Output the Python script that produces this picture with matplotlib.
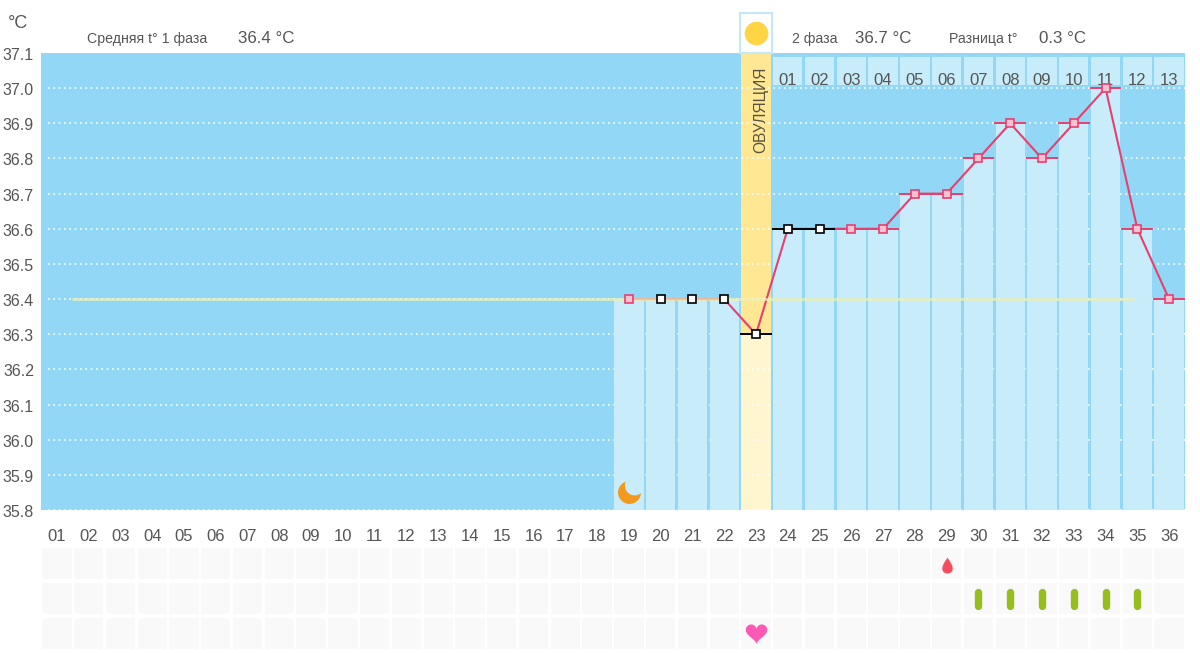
import numpy as np
import matplotlib
matplotlib.use('Agg')
import matplotlib.pyplot as plt
from matplotlib.path import Path
from matplotlib.patches import Rectangle
from matplotlib.transforms import ScaledTranslation

plt.rcParams['font.family'] = ['Liberation Sans', 'DejaVu Sans']

# Значения с графика
all_days = list(range(1, 37))
day_labels = [f'{d:02d}' for d in all_days]
temp_days = list(range(19, 37))
temps = [36.4, 36.4, 36.4, 36.4, 36.3, 36.6, 36.6, 36.6, 36.6, 36.7,
         36.7, 36.8, 36.9, 36.8, 36.9, 37.0, 36.6, 36.4]
black_days = [20, 21, 22, 23, 24, 25]
no_cap_days = [19, 20, 21, 22]
ovulation_day = 23
phase2_days = list(range(24, 37))
phase2_labels = [f'{d:02d}' for d in range(1, 14)]
y_ticks = [35.8, 35.9, 36.0, 36.1, 36.2, 36.3, 36.4, 36.5, 36.6, 36.7, 36.8, 36.9, 37.0, 37.1]
mean_temp = 36.4
mean_from, mean_to = 1.47, 34.9
drop_days = [29]
pill_days = [30, 31, 32, 33, 34, 35]
heart_days = [23]
moon_day = 19

W, H = 1200, 653
BG = '#92D8F6'
LIGHT = '#C9ECFB'
TEXT = '#555555'
RED = '#E5406F'


def px_axes(x0, y0, x1, y1):
    # координаты в пикселях от верхнего левого угла
    return fig.add_axes([x0 / W, 1 - y1 / H, (x1 - x0) / W, (y1 - y0) / H])


def crescent():
    a1 = np.radians(np.linspace(109, 357, 50))
    a2 = np.radians(np.linspace(310, 156, 40))
    xs = np.r_[np.cos(a1), 0.45 + 0.85 * np.cos(a2)]
    ys = np.r_[np.sin(a1), 0.6 + 0.85 * np.sin(a2)]
    return Path(np.c_[xs, ys])


def heart():
    t = np.linspace(0, 2 * np.pi, 80)
    xs = 16 * np.sin(t) ** 3
    ys = 13 * np.cos(t) - 5 * np.cos(2 * t) - 2 * np.cos(3 * t) - np.cos(4 * t)
    return Path(np.c_[xs, ys + 3])


def drop():
    t = np.linspace(0, 2 * np.pi, 80)
    xs = 0.9 * np.sin(t) * np.sin(t / 2) ** 1.3
    ys = np.cos(t)
    return Path(np.c_[xs, ys])


fig = plt.figure(figsize=(W / 100, H / 100), dpi=100, facecolor='white')

ax = px_axes(41, 53, 1185, 510)
ax.set_facecolor(BG)
ax.set_xlim(0.5, 36.5)
ax.set_ylim(35.8, 37.1)
for s in ax.spines.values():
    s.set_visible(False)

# колонка овуляции
ov_temp = temps[temp_days.index(ovulation_day)]
ax.bar(ovulation_day, 37.1 - ov_temp, bottom=ov_temp, width=0.94, color='#FFE794', zorder=1)
ax.bar(ovulation_day, ov_temp - 35.8, bottom=35.8, width=0.94, color='#FFF5CF', zorder=1)

# пунктирная сетка
ax.hlines(y_ticks[:-1], 0.72, 36.5, colors='white', lw=1.2, linestyles=(0, (1, 2.2)), zorder=2, clip_on=False)

# столбики температуры
for d, t in zip(temp_days, temps):
    if d != ovulation_day:
        ax.bar(d, t - 35.8, bottom=35.8, width=0.92, color=LIGHT, zorder=3)

# вкладки второй фазы
ax.bar(phase2_days, [0.082] * 13, bottom=37.008, width=0.92, color=LIGHT, zorder=3)
for d, lab in zip(phase2_days, phase2_labels):
    ax.text(d, 37.021, lab, ha='center', va='center', fontsize=12, color=TEXT, zorder=6)

# вкладка с солнцем
ax.add_patch(Rectangle((ovulation_day - 0.5, 37.1), 1.0, 0.115, fc='white', ec='#C4E8F8',
                       lw=1.5, clip_on=False, zorder=4))
ax.plot([ovulation_day], [37.157], marker='o', ms=17, color='#FFD544', mew=0, clip_on=False, zorder=5)
ax.text(ovulation_day + 0.16, 36.938, 'ОВУЛЯЦИЯ', rotation=90, ha='center', va='center',
        fontsize=11.2, color='#5A5240', zorder=6)

# средняя и кривая температуры
ax.plot(temp_days, temps, color=RED, lw=1.5, zorder=4)
ax.hlines(mean_temp, mean_from, mean_to, colors='#EEF0B4', lw=2, alpha=0.75, zorder=5)

for d, t in zip(temp_days, temps):
    black = d in black_days
    if d not in no_cap_days:
        ax.hlines(t, d - 0.5, d + 0.5, colors='black' if black else RED, lw=1.4, zorder=6)
    ax.plot(d, t, marker='s', ms=5.6 if black else 5.2,
            mfc='white' if black else '#F7C3D2', mec='black' if black else RED,
            mew=1.2, zorder=7, clip_on=False)

ax.plot(moon_day, 35.85, marker=crescent(), ms=16.5, color='#F39A1E', mew=0, zorder=6)

ax.set_yticks(y_ticks)
ax.set_yticklabels([f'{v:.1f}' for v in y_ticks], fontsize=11.5, color=TEXT)
ax.set_xticks(all_days)
ax.set_xticklabels(day_labels, fontsize=12, color=TEXT)
ax.tick_params(axis='both', length=0)
ax.tick_params(axis='x', pad=13.5)
ax.tick_params(axis='y', pad=5)
for lab in ax.get_yticklabels():
    lab.set_transform(lab.get_transform() + ScaledTranslation(0, -0.7 / 72, fig.dpi_scale_trans))

# нижняя таблица отметок
ax2 = px_axes(41, 546, 1185, 651)
ax2.set_xlim(0.5, 36.5)
ax2.set_ylim(3.0, 0.0)
ax2.axis('off')
for row in range(3):
    ax2.bar(all_days, [0.88] * 36, bottom=row + 0.06, width=0.92, color='#F9F9F9', zorder=1)
ax2.plot(drop_days, [0.55] * len(drop_days), ls='', marker=drop(), ms=11.5, color='#F44E5E', mew=0, zorder=3)
ax2.vlines(pill_days, 1.3, 1.7, colors='#95BE1E', lw=5.3, capstyle='round', zorder=3)
ax2.plot(heart_days, [2.5] * len(heart_days), ls='', marker=heart(), ms=15.5, color='#FB59B3', mew=0, zorder=3)

# подписи сверху
fig.text(8 / W, 1 - 24 / H, '°C', fontsize=13, color=TEXT, va='center')
top_texts = [(87, 'Средняя t° 1 фаза', 10.2), (238, '36.4 °C', 12.2), (792, '2 фаза', 10.2),
             (855, '36.7 °C', 12.2), (949, 'Разница t°', 10.2), (1039, '0.3 °C', 12.2)]
for x, s, size in top_texts:
    fig.text(x / W, 1 - 38.5 / H, s, fontsize=size, color=TEXT, va='center')

fig.savefig('out.png', dpi=100)
